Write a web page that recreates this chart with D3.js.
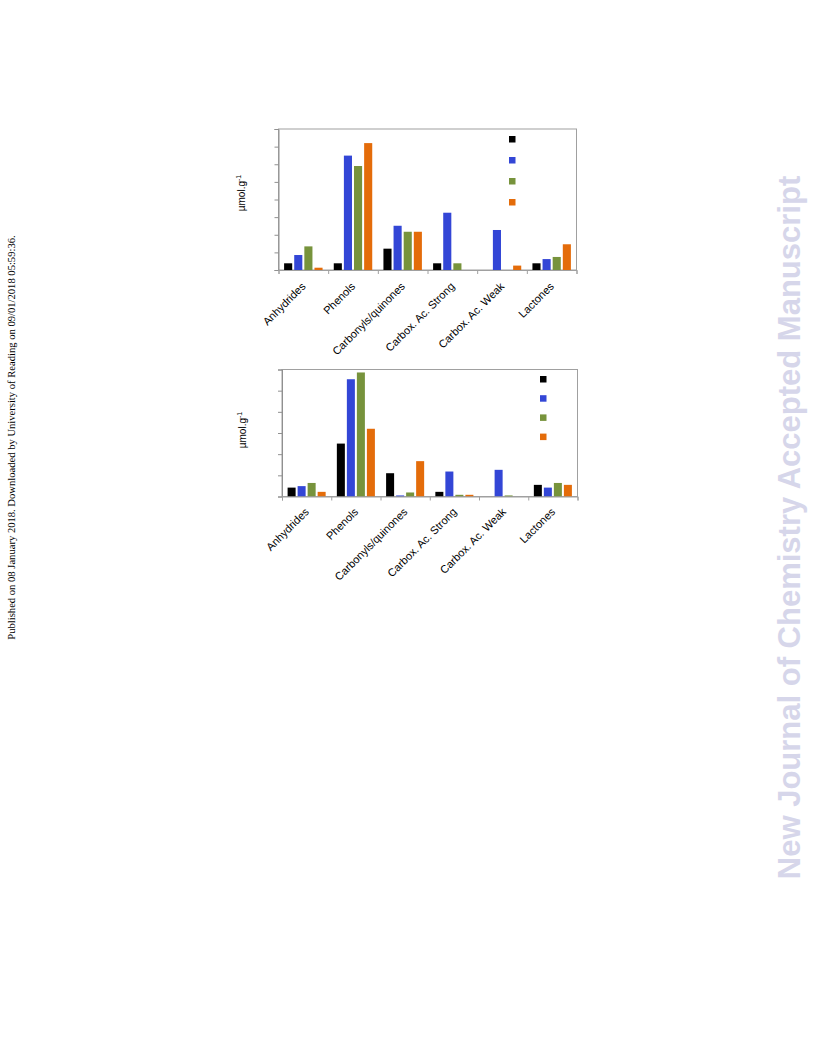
<!DOCTYPE html>
<html>
<head>
<meta charset="utf-8">
<script src="https://cdn.jsdelivr.net/npm/d3@7"></script>
<style>
  html, body { margin: 0; padding: 0; background: #fff; }
  svg { display: block; }
</style>
</head>
<body>
<svg id="page" width="816" height="1056"></svg>
<script>
// ---- data ----
const categories = ["Anhydrides", "Phenols", "Carbonyls/quinones", "Carbox. Ac. Strong", "Carbox. Ac. Weak", "Lactones"];
const seriesNames = ["S1", "S2", "S3", "S4"];
const seriesColors = ["#000000", "#3346d6", "#77933c", "#e46c0a"];

// top chart (values in axis-tick units)
const topS1 = [0.38, 0.38, 1.21, 0.38, 0.0, 0.38];
const topS2 = [0.85, 6.49, 2.51, 3.25, 2.27, 0.62];
const topS3 = [1.34, 5.90, 2.17, 0.38, 0.0, 0.74];
const topS4 = [0.13, 7.20, 2.17, 0.0, 0.25, 1.46];
const topTicks = [0, 1, 2, 3, 4, 5, 6, 7, 8];

// bottom chart
const botS1 = [0.42, 2.50, 1.10, 0.22, 0.0, 0.55];
const botS2 = [0.49, 5.54, 0.05, 1.18, 1.26, 0.42];
const botS3 = [0.64, 5.86, 0.19, 0.08, 0.05, 0.64];
const botS4 = [0.22, 3.20, 1.67, 0.08, 0.0, 0.55];
const botTicks = [0, 1, 2, 3, 4, 5, 6];

const yLabel = "µmol.g";
const yLabelSup = "-1";
const sideNote = "Published on 08 January 2018. Downloaded by University of Reading on 09/01/2018 05:59:36.";
const watermark = "New Journal of Chemistry Accepted Manuscript";

const svg = d3.select("#page");
const FONT = "'Liberation Sans', Arial, sans-serif";

function drawChart(cfg) {
  const { left, right, top, bottom, series, ticks, legendX, legendY, legendStep, labelX, labelY, labelDy } = cfg;
  const g = svg.append("g");
  const x0 = d3.scaleBand().domain(categories).range([left, right]).padding(0);
  const x1 = d3.scaleBand().domain(seriesNames).range([5.6, x0.bandwidth() - 5.6]).paddingInner(0.2);
  const y = d3.scaleLinear().domain([0, d3.max(ticks)]).range([bottom, top]);

  // frame
  g.append("rect").attr("x", left).attr("y", top).attr("width", right - left).attr("height", bottom - top)
    .attr("fill", "none").attr("stroke", "#a0a0a0").attr("stroke-width", 1);

  // bars
  const rows = categories.map((c, i) => ({ c, vals: series.map(s => s[i]) }));
  const grp = g.selectAll("g.cat").data(rows).join("g").attr("class", "cat")
    .attr("transform", d => `translate(${x0(d.c)},0)`);
  grp.selectAll("rect").data(d => d.vals.map((v, k) => ({ v, k })))
    .join("rect")
    .attr("x", d => x1(seriesNames[d.k]))
    .attr("width", x1.bandwidth())
    .attr("y", d => y(d.v))
    .attr("height", d => bottom - y(d.v))
    .attr("fill", d => seriesColors[d.k]);

  // y axis
  const yAxis = d3.axisLeft(y).tickValues(ticks).tickSize(4).tickFormat("");
  const ya = g.append("g").attr("transform", `translate(${left},0)`).call(yAxis);
  ya.selectAll("line").attr("stroke", "#909090");
  ya.select(".domain").attr("stroke", "#909090");

  // x axis
  const xAxis = d3.axisBottom(d3.scaleLinear().domain([0, categories.length]).range([left, right]))
    .tickValues(d3.range(categories.length + 1)).tickSize(4).tickFormat("");
  const xa = g.append("g").attr("transform", `translate(0,${bottom})`).call(xAxis);
  xa.selectAll("line").attr("stroke", "#a0a0a0");
  xa.select(".domain").attr("stroke", "#a0a0a0");

  // category labels
  g.selectAll("text.cat").data(categories).join("text").attr("class", "cat")
    .attr("transform", d => `translate(${x0(d) + x0.bandwidth() / 2 + 3},${bottom + labelDy}) rotate(-45)`)
    .attr("text-anchor", "end")
    .attr("font-family", FONT).attr("font-size", 11).attr("fill", "#000")
    .text(d => d);

  // legend squares
  g.selectAll("rect.leg").data(seriesNames).join("rect").attr("class", "leg")
    .attr("x", legendX).attr("y", (d, i) => legendY + i * legendStep)
    .attr("width", 6.5).attr("height", 6.5)
    .attr("fill", (d, i) => seriesColors[i]);

  // y label
  const t = g.append("text")
    .attr("transform", `translate(${labelX},${labelY}) rotate(-90)`)
    .attr("text-anchor", "middle")
    .attr("font-family", FONT).attr("font-size", 10).attr("fill", "#000");
  t.append("tspan").text(yLabel);
  t.append("tspan").attr("dy", -4).attr("font-size", 7).text(yLabelSup);
}

drawChart({ left: 278.5, right: 576.5, top: 129, bottom: 270,
  series: [topS1, topS2, topS3, topS4], ticks: topTicks,
  legendX: 509, legendY: 136, legendStep: 21, labelX: 245, labelY: 193, labelDy: 17 });

drawChart({ left: 282, right: 577.5, top: 369.5, bottom: 496.5,
  series: [botS1, botS2, botS3, botS4], ticks: botTicks,
  legendX: 540, legendY: 376, legendStep: 19.2, labelX: 245.5, labelY: 430, labelDy: 16 });

// side note
svg.append("text")
  .attr("transform", "translate(15,437.5) rotate(-90)")
  .attr("text-anchor", "middle")
  .attr("font-family", "'Liberation Serif', 'Times New Roman', serif")
  .attr("font-size", 10.6).attr("fill", "#000")
  .text(sideNote);

// watermark
svg.append("text")
  .attr("transform", "translate(799.5,527.5) rotate(-90)")
  .attr("text-anchor", "middle")
  .attr("font-family", FONT).attr("font-weight", "bold")
  .attr("font-size", 31).attr("fill", "#d6d6ea")
  .text(watermark);
</script>
</body>
</html>
